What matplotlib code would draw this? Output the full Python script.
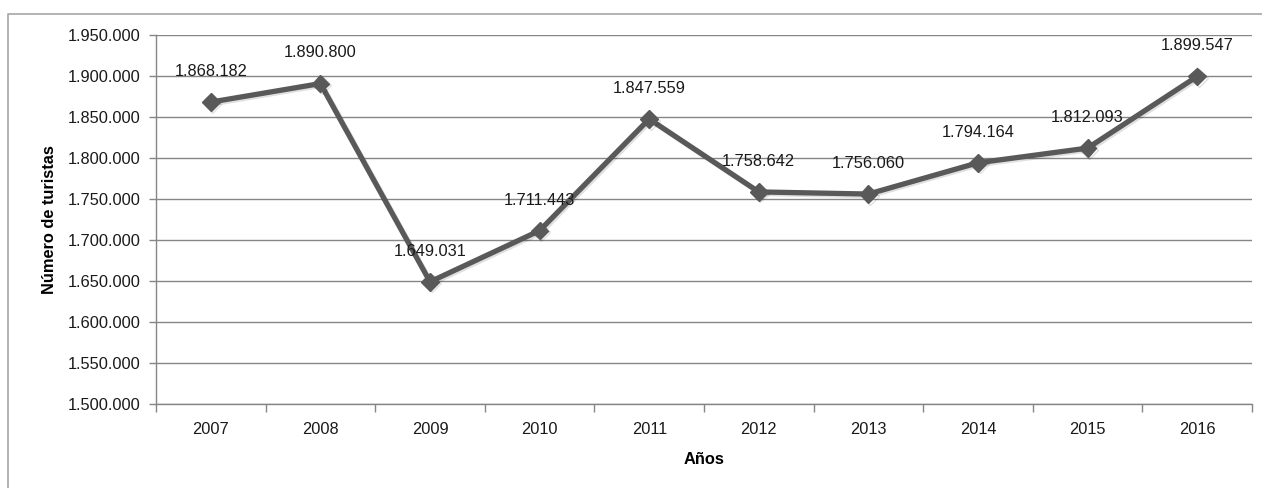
import matplotlib
matplotlib.use('Agg')
import matplotlib.pyplot as plt
from matplotlib.ticker import FuncFormatter, FixedLocator
from matplotlib.lines import Line2D
import matplotlib.patheffects as pe
import numpy as np

plt.rcParams['font.family'] = ['Liberation Sans', 'DejaVu Sans']

# data
years = ['2007', '2008', '2009', '2010', '2011', '2012', '2013', '2014', '2015', '2016']
turistas = [1868182, 1890800, 1649031, 1711443, 1847559, 1758642, 1756060, 1794164, 1812093, 1899547]
y_ticks = [1500000, 1550000, 1600000, 1650000, 1700000, 1750000, 1800000, 1850000, 1900000, 1950000]


def miles(v, pos=None):
    return '{:,.0f}'.format(v).replace(',', '.')


fig = plt.figure(figsize=(12.62, 4.88), dpi=100)
ax = fig.add_axes([156 / 1262, 1 - 404 / 488, (1252 - 156) / 1262, (404 - 35) / 488])

grid_col = '#868686'
txt_col = '#1a1a1a'
x = np.arange(len(years))

ax.plot(x, turistas, color='#595959', lw=3.8, marker='D', markersize=9,
        markerfacecolor='#595959', markeredgecolor='#595959', zorder=3,
        path_effects=[pe.SimpleLineShadow(offset=(1.2, -1.2), alpha=0.12), pe.Normal()])

for xi, v in zip(x, turistas):
    ax.annotate(miles(v), (xi, v), xytext=(0, 22), textcoords='offset points',
                ha='center', va='center', fontsize=11.8, color=txt_col, zorder=4)

ax.set_ylim(y_ticks[0], y_ticks[-1])
ax.set_yticks(y_ticks)
ax.yaxis.set_major_formatter(FuncFormatter(miles))
ax.yaxis.grid(True, color=grid_col, lw=1)
ax.set_axisbelow(True)

ax.set_xlim(-0.5, len(years) - 0.5)
ax.set_xticks(x)
ax.set_xticklabels(years)
ax.xaxis.set_minor_locator(FixedLocator(np.arange(-0.5, len(years), 1.0)))
ax.tick_params(axis='x', which='major', length=0, pad=13, labelsize=11.8, colors=txt_col)
ax.tick_params(axis='x', which='minor', length=6, width=1, color=grid_col)
ax.tick_params(axis='y', length=5, width=1, color=grid_col, pad=6, labelsize=11.8, labelcolor=txt_col)

for s in ['top', 'right']:
    ax.spines[s].set_visible(False)
for s in ['left', 'bottom']:
    ax.spines[s].set_color(grid_col)
    ax.spines[s].set_linewidth(1)

ax.set_xlabel('Años', fontsize=11.8, fontweight='bold', labelpad=11)
ax.set_ylabel('Número de turistas', fontsize=11.8, fontweight='bold', labelpad=8)

# outer chart frame
fx = 8 / 1262
fy = 1 - 14 / 488
fig.add_artist(Line2D([fx, fx, 1.0], [0.0, fy, fy], transform=fig.transFigure,
                      color='#a6a6a6', lw=1.2))

fig.savefig('out.png', dpi=100, facecolor='white')
